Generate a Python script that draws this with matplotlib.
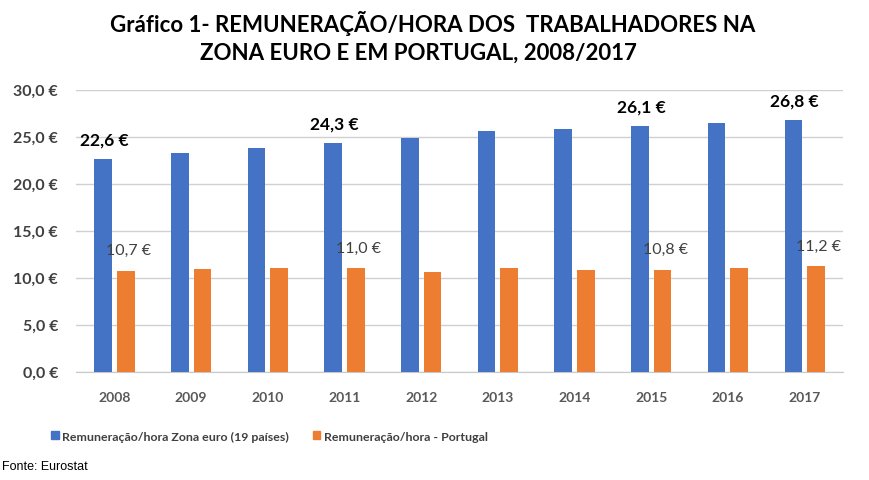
import matplotlib
matplotlib.use('Agg')
from matplotlib import pyplot as plt
from matplotlib.patches import Patch
import numpy as np

years = ['2008', '2009', '2010', '2011', '2012', '2013', '2014', '2015', '2016', '2017']
zona_euro = [22.6, 23.3, 23.8, 24.3, 24.9, 25.6, 25.8, 26.1, 26.5, 26.8]
portugal = [10.7, 10.9, 11.0, 11.0, 10.6, 11.0, 10.8, 10.8, 11.0, 11.2]
labelled = ['2008', '2011', '2015', '2017']
yticks = [0, 5, 10, 15, 20, 25, 30]

blue = '#4472C4'
orange = '#ED7D31'
font = ['Lato', 'DejaVu Sans']

fig = plt.figure(figsize=(8.69, 4.81), dpi=100)
ax = fig.add_axes([0.0875, 0.2252, 0.8826, 0.5863])

x = np.arange(len(years))
w = 0.23
off = 0.1475
ax.bar(x - off, zona_euro, w, color=blue, zorder=3)
ax.bar(x + off, portugal, w, color=orange, zorder=3)

for i, yr in enumerate(years):
    if yr in labelled:
        ax.annotate(f'{zona_euro[i]:.1f} €'.replace('.', ','), (x[i] - off, zona_euro[i]),
                    xytext=(1, 14), textcoords='offset points', ha='center', va='center',
                    fontsize=12.5, fontweight='bold', color='black', family=font)
        ax.annotate(f'{portugal[i]:.1f} €'.replace('.', ','), (x[i] + off, portugal[i]),
                    xytext=(2, 15), textcoords='offset points', ha='center', va='center',
                    fontsize=11.5, color='#404040', family=font)

ax.set_xlim(-0.5, len(years) - 0.5)
ax.set_ylim(0, 30)
ax.set_yticks(yticks)
ax.set_yticklabels([f'{v:.1f} €'.replace('.', ',') for v in yticks])
ax.set_xticks(x)
ax.set_xticklabels(years)
ax.tick_params(axis='y', length=0, pad=13, labelsize=11.5, labelcolor='#404040')
ax.tick_params(axis='x', length=0, pad=14, labelsize=10, labelcolor='#595959')
for lab in ax.get_yticklabels() + ax.get_xticklabels():
    lab.set_fontweight('bold')
    lab.set_family(font)

ax.grid(axis='y', color='#D0D0D0', linewidth=1, zorder=0)
for s in ['top', 'right', 'left']:
    ax.spines[s].set_visible(False)
ax.spines['bottom'].set_color('#C8C8C8')

fig.text(433 / 869, 1 - 23 / 481, 'Gráfico 1- REMUNERAÇÃO/HORA DOS  TRABALHADORES NA',
         ha='center', va='center', fontsize=16, fontweight='bold', family=font)
fig.text(418 / 869, 1 - 53 / 481, 'ZONA EURO E EM PORTUGAL, 2008/2017',
         ha='center', va='center', fontsize=16, fontweight='bold', family=font)

handles = [Patch(color=blue), Patch(color=orange)]
fig.legend(handles, ['Remuneração/hora Zona euro (19 países)', 'Remuneração/hora - Portugal'],
           loc='center left', bbox_to_anchor=(40 / 869, 1 - 437 / 481), ncol=2, frameon=False,
           handlelength=0.6, handleheight=0.65, handletextpad=0.3, columnspacing=1.9,
           prop={'family': font, 'size': 8.9, 'weight': 'bold'}, labelcolor='#404040')

fig.text(2 / 869, 1 - 467 / 481, 'Fonte: Eurostat', ha='left', va='center', fontsize=9,
         family=['Liberation Sans Narrow', 'Liberation Sans', 'DejaVu Sans'])

plt.savefig('out.png', dpi=100)
